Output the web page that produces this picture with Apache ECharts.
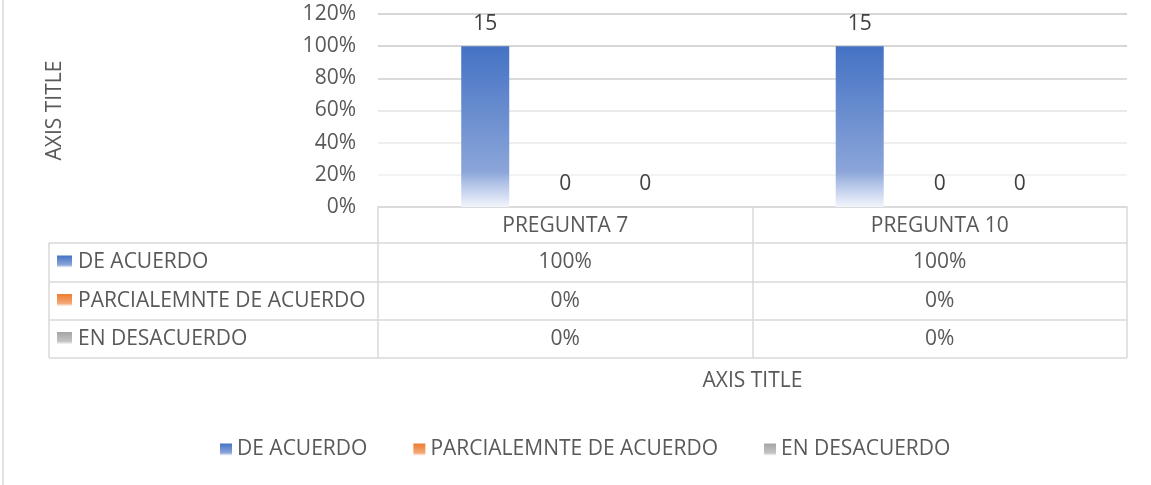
<!DOCTYPE html>
<html>
<head>
<meta charset="utf-8">
<style>html,body{margin:0;padding:0;background:#fff}#main{width:1151px;height:485px}</style>
<script src="https://cdn.jsdelivr.net/npm/echarts@6/dist/echarts.min.js"></script>
</head>
<body>
<div id="main"></div>
<script>
var categories = ['PREGUNTA 7', 'PREGUNTA 10'];
var seriesNames = ['DE ACUERDO', 'PARCIALEMNTE DE ACUERDO', 'EN DESACUERDO'];
var deAcuerdo = [1, 1];
var parcial = [0, 0];
var desacuerdo = [0, 0];
var deAcuerdoCount = [15, 15];
var parcialCount = [0, 0];
var desacuerdoCount = [0, 0];

var FONT = '"Open Sans", "DejaVu Sans", sans-serif';
var TXT = '#595959';
var LINE = '#d9d9d9';
var FS = 21;

function grad(c0, c1, c2, c3) {
  return new echarts.graphic.LinearGradient(0, 0, 0, 1, [
    { offset: 0, color: c0 },
    { offset: 0.78, color: c1 },
    { offset: 0.87, color: c2 },
    { offset: 1, color: c3 }
  ]);
}
var fills = [
  grad('#4472C4', '#8BA5D9', '#B8C8E9', '#F2F5FB'),
  grad('#ED7D31', '#F3A875', '#F7C8A8', '#FDF3EC'),
  grad('#A5A5A5', '#C3C3C3', '#D8D8D8', '#F6F6F6')
];
var values = [deAcuerdo, parcial, desacuerdo];
var counts = [deAcuerdoCount, parcialCount, desacuerdoCount];

var chart = echarts.init(document.getElementById('main'));

var series = seriesNames.map(function (name, i) {
  return {
    name: name,
    type: 'bar',
    barWidth: 48,
    barGap: '66.7%',
    data: values[i],
    itemStyle: { color: fills[i] },
    label: {
      show: true,
      position: 'top',
      distance: 12,
      color: '#404040',
      fontFamily: FONT,
      fontSize: FS,
      formatter: function (p) { return counts[i][p.dataIndex]; }
    }
  };
});

chart.setOption({
  animation: false,
  textStyle: { fontFamily: FONT },
  grid: { left: 378, right: 24, top: 14, bottom: 278 },
  legend: {
    left: 215,
    top: 434,
    itemWidth: 12,
    itemHeight: 12,
    itemGap: 46,
    icon: 'rect',
    textStyle: { color: TXT, fontSize: FS, fontFamily: FONT },
    data: seriesNames
  },
  xAxis: {
    type: 'category',
    data: categories,
    axisLine: { lineStyle: { color: LINE, width: 1.5 } },
    axisTick: { show: true, length: 151, lineStyle: { color: LINE, width: 1.5 } },
    axisLabel: { color: TXT, fontSize: FS, margin: 9 },
    name: 'AXIS TITLE',
    nameLocation: 'middle',
    nameGap: 164,
    nameTextStyle: { color: TXT, fontSize: FS }
  },
  yAxis: {
    type: 'value',
    min: 0,
    max: 1.2,
    interval: 0.2,
    axisLine: { show: false },
    axisTick: { show: false },
    axisLabel: {
      color: TXT, fontSize: FS, margin: 22, padding: [4, 0, 0, 0],
      formatter: function (v) { return Math.round(v * 100) + '%'; }
    },
    splitLine: {
      lineStyle: {
        width: 1.5,
        color: ['#d9d9d9', '#efefef', '#e8e8e8', '#e2e2e2', '#cfcfcf', '#c9c9c9', '#c9c9c9']
      }
    },
    name: 'AXIS TITLE',
    nameLocation: 'middle',
    nameGap: 312,
    nameTextStyle: { color: TXT, fontSize: FS }
  },
  series: series
});

// data table under the plot
var rowY = [243, 282, 320, 358];
var tableLeft = 49, tableRight = 1127;
var g = [];
g.push({ type: 'line', shape: { x1: 3, y1: 0, x2: 3, y2: 485 }, style: { stroke: LINE, lineWidth: 1.5 } });
rowY.forEach(function (y) {
  g.push({ type: 'line', shape: { x1: tableLeft, y1: y, x2: tableRight, y2: y }, style: { stroke: LINE, lineWidth: 1.5 } });
});
g.push({ type: 'line', shape: { x1: tableLeft, y1: rowY[0], x2: tableLeft, y2: rowY[3] }, style: { stroke: LINE, lineWidth: 1.5 } });

seriesNames.forEach(function (name, i) {
  var cy = (rowY[i] + rowY[i + 1]) / 2;
  g.push({ type: 'rect', shape: { x: 57, y: cy - 7, width: 15, height: 12 }, style: { fill: fills[i] } });
  g.push({ type: 'text', style: { text: name, x: 78, y: cy, fill: TXT, fontSize: FS, fontFamily: FONT, verticalAlign: 'middle' } });
  categories.forEach(function (c, j) {
    var cx = chart.convertToPixel({ xAxisIndex: 0 }, c);
    g.push({ type: 'text', style: {
      text: Math.round(values[i][j] * 100) + '%', x: cx, y: cy, fill: TXT,
      fontSize: FS, fontFamily: FONT, align: 'center', verticalAlign: 'middle'
    } });
  });
});
chart.setOption({ graphic: g });
</script>
</body>
</html>
